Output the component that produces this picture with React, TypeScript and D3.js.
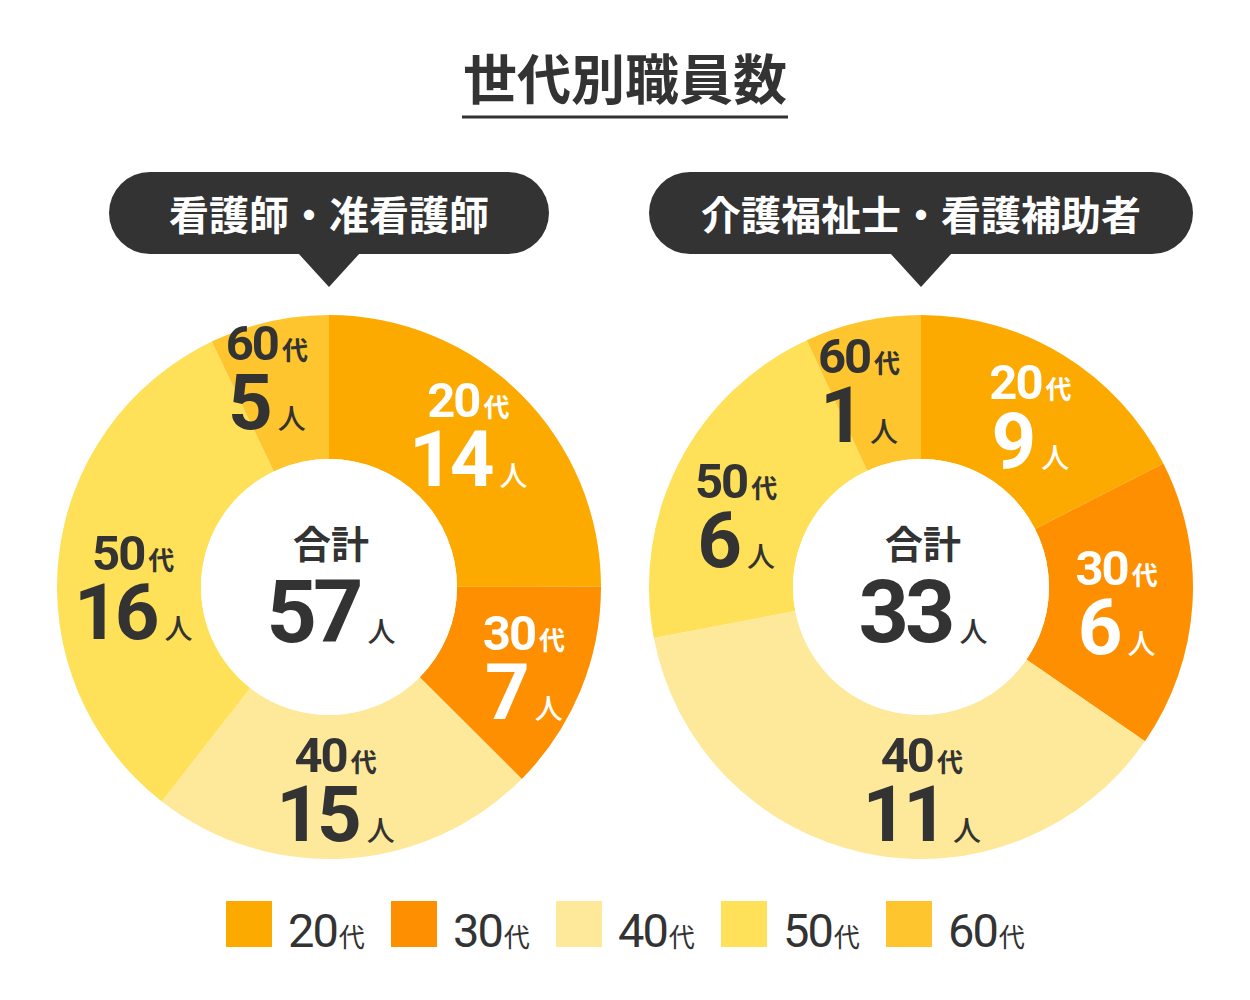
import React from "react";
import * as d3 from "d3";

// ---- data ----
const chartTitle = "世代別職員数";
const totalLabel = "合計";
const ageNumbers = ["20", "30", "40", "50", "60"];
const ageSuffix = "代";
const personSuffix = "人";

const nurseTitle = "看護師・准看護師";
const careTitle = "介護福祉士・看護補助者";

const nurseCounts = [14, 7, 15, 16, 5];
const careCounts = [9, 6, 11, 6, 1];

// slice sizes as drawn in the picture (% of the full circle)
const nurseArcShare = [25.0, 12.5, 23.1, 32.4, 7.1];
const careArcShare = [17.5, 17.1, 37.4, 21.1, 6.9];

// ---- styles / layout ----
const colors = ["#FCA900", "#FD8F00", "#FEE99B", "#FEE158", "#FEC52E"];
const labelFill = ["#ffffff", "#ffffff", "#333333", "#333333", "#333333"];
const DARK = "#333333";
const NUM_FONT = "Roboto, 'Liberation Sans', Arial, sans-serif";
const JP_FONT = "'Noto Sans CJK JP', 'Noto Sans', sans-serif";

const nurseNudge: [number, number][] = [[-2, -9], [10, 6], [-6, 4], [3, 24], [-18, -13]];
const careNudge: [number, number][] = [[5, 2], [-4, 4], [42, 8], [-7, 21], [-19, 0]];

const R_OUT = 272;
const R_IN = 128;
const CY = 587;

function Bubble({ cx, width, text }: { cx: number; width: number; text: string }) {
  const top = 172;
  const h = 82;
  return (
    <g>
      <rect x={cx - width / 2} y={top} width={width} height={h} rx={h / 2} ry={h / 2} fill={DARK} />
      <path d={`M${cx - 31},${top + h - 1} L${cx + 31},${top + h - 1} L${cx},${top + h + 33} Z`} fill={DARK} />
      <text
        x={cx}
        y={top + h / 2}
        textAnchor="middle"
        dominantBaseline="central"
        fill="#ffffff"
        fontFamily={JP_FONT}
        fontWeight={700}
        fontSize={40}
      >
        {text}
      </text>
    </g>
  );
}

function Donut({
  cx,
  counts,
  shares,
  nudges,
}: {
  cx: number;
  counts: number[];
  shares: number[];
  nudges: [number, number][];
}) {
  const pie = d3.pie<number>().sort(null).value((d) => d);
  const arcs = pie(shares);
  const arcGen = d3.arc<d3.PieArcDatum<number>>().innerRadius(R_IN).outerRadius(R_OUT);
  const total = d3.sum(counts);
  return (
    <g transform={`translate(${cx},${CY})`}>
      {arcs.map((a, i) => (
        <path key={i} d={arcGen(a) || ""} fill={colors[i]} />
      ))}
      <circle r={R_IN} fill="#ffffff" />
      {arcs.map((a, i) => {
        const [x, y] = arcGen.centroid(a);
        const lx = x + nudges[i][0];
        const ly = y + nudges[i][1];
        return (
          <g key={"l" + i} fill={labelFill[i]}>
            <text x={lx} y={ly - 19} textAnchor="middle">
              <tspan fontFamily={NUM_FONT} fontWeight={700} fontSize={49} letterSpacing={-2}>
                {ageNumbers[i]}
              </tspan>
              <tspan dx={4} fontFamily={JP_FONT} fontWeight={700} fontSize={26}>
                {ageSuffix}
              </tspan>
            </text>
            <text x={lx} y={ly + 50} textAnchor="middle">
              <tspan fontFamily={NUM_FONT} fontWeight={700} fontSize={78} letterSpacing={-4}>
                {counts[i]}
              </tspan>
              <tspan dx={9} fontFamily={JP_FONT} fontWeight={500} fontSize={28}>
                {personSuffix}
              </tspan>
            </text>
          </g>
        );
      })}
      <text
        x={2}
        y={-46}
        textAnchor="middle"
        dominantBaseline="central"
        fill={DARK}
        fontFamily={JP_FONT}
        fontWeight={700}
        fontSize={38}
      >
        {totalLabel}
      </text>
      <text x={2} y={55} textAnchor="middle" fill={DARK}>
        <tspan fontFamily={NUM_FONT} fontWeight={700} fontSize={88} letterSpacing={-4}>
          {total}
        </tspan>
        <tspan dx={8} fontFamily={JP_FONT} fontWeight={500} fontSize={28}>
          {personSuffix}
        </tspan>
      </text>
    </g>
  );
}

function Legend() {
  const x = d3.scaleBand<string>().domain(ageNumbers).range([226, 226 + 5 * 165]);
  return (
    <g>
      {ageNumbers.map((n, i) => (
        <g key={n} transform={`translate(${x(n)},901)`}>
          <rect width={46} height={46} fill={colors[i]} />
          <text x={62} y={46} fill={DARK}>
            <tspan fontFamily={NUM_FONT} fontWeight={400} fontSize={47} letterSpacing={-2}>
              {n}
            </tspan>
            <tspan dx={2} fontFamily={JP_FONT} fontWeight={400} fontSize={26}>
              {ageSuffix}
            </tspan>
          </text>
        </g>
      ))}
    </g>
  );
}

export default function App() {
  return (
    <svg
      width={1250}
      height={1000}
      viewBox="0 0 1250 1000"
      style={{ position: "absolute", left: 0, top: 0, background: "#ffffff" }}
    >
      <rect width={1250} height={1000} fill="#ffffff" />
      <text
        x={625}
        y={76}
        textAnchor="middle"
        dominantBaseline="central"
        fill={DARK}
        fontFamily={JP_FONT}
        fontWeight={700}
        fontSize={54}
      >
        {chartTitle}
      </text>
      <line x1={462} x2={788} y1={117} y2={117} stroke={DARK} strokeWidth={3} />

      <Bubble cx={329} width={440} text={nurseTitle} />
      <Bubble cx={921} width={544} text={careTitle} />

      <Donut cx={329} counts={nurseCounts} shares={nurseArcShare} nudges={nurseNudge} />
      <Donut cx={921} counts={careCounts} shares={careArcShare} nudges={careNudge} />

      <Legend />
    </svg>
  );
}
